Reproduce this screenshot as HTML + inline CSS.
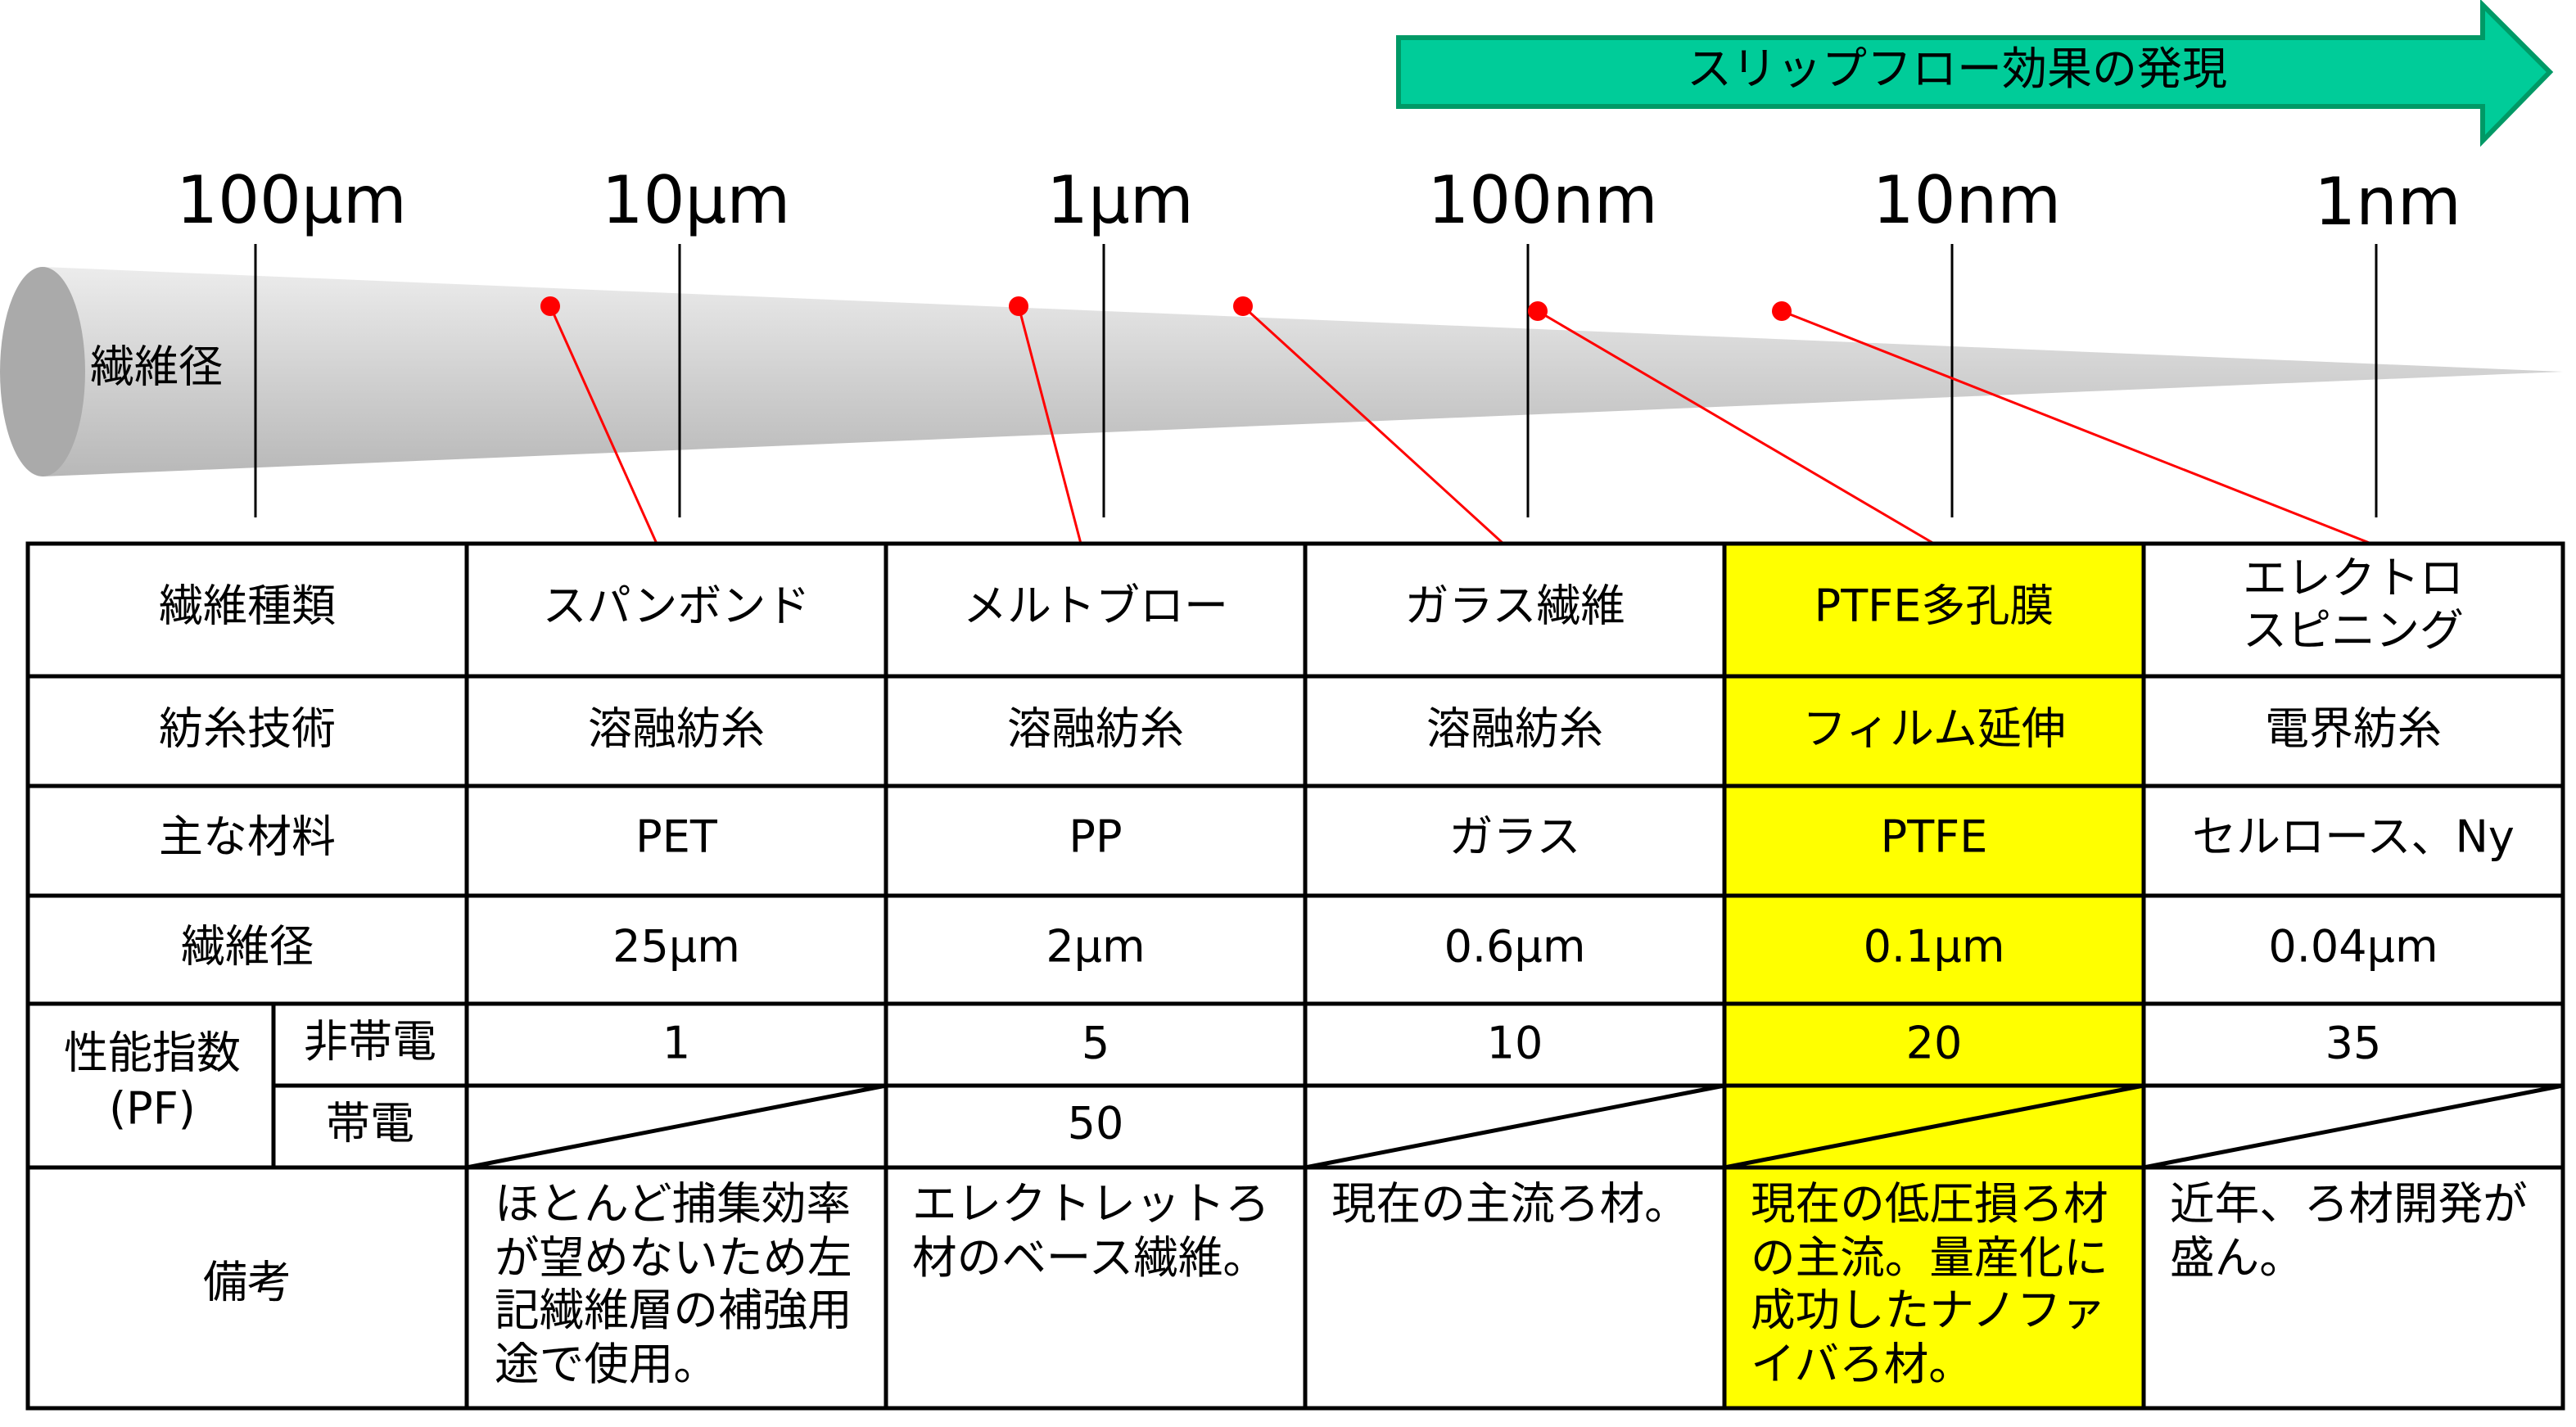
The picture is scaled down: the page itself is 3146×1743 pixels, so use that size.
<!DOCTYPE html>
<html><head><meta charset="utf-8"><style>
html,body{margin:0;padding:0;background:#fff;}
svg{display:block;}
text{font-family:"DejaVu Sans","Noto Sans CJK JP",sans-serif;fill:#000;}
</style></head><body>
<svg width="3146" height="1743" viewBox="0 0 1573 871.5" xmlns="http://www.w3.org/2000/svg">
<defs>
<linearGradient id="g" x1="0" y1="0" x2="0" y2="1">
<stop offset="0" stop-color="#ececec"/><stop offset="1" stop-color="#b8b8b8"/>
</linearGradient>
</defs>
<polygon points="854,23 1516,23 1516,3 1557,44 1516,86 1516,65 854,65" fill="#00cc99" stroke="#009966" stroke-width="3"/>
<text x="1195" y="42" font-size="27.5" text-anchor="middle" dominant-baseline="central">スリップフロー効果の発現</text>
<g font-size="40" text-anchor="middle">
<text x="178" y="136">100μm</text>
<text x="425" y="136">10μm</text>
<text x="684" y="136">1μm</text>
<text x="942" y="136">100nm</text>
<text x="1201" y="136">10nm</text>
<text x="1458" y="137">1nm</text>
</g>
<polygon points="26,163 1565,227 26,291" fill="url(#g)"/>
<ellipse cx="26" cy="227" rx="26" ry="64" fill="#aaaaaa"/>
<text x="55" y="224" font-size="27" dominant-baseline="central">繊維径</text>
<g stroke="#000" stroke-width="1.5">
<line x1="156" y1="149" x2="156" y2="316"/><line x1="415" y1="149" x2="415" y2="316"/>
<line x1="674" y1="149" x2="674" y2="316"/><line x1="933" y1="149" x2="933" y2="316"/>
<line x1="1192" y1="149" x2="1192" y2="316"/><line x1="1451" y1="149" x2="1451" y2="316"/>
</g>
<rect x="1053" y="332" width="256" height="528" fill="#ffff00"/>
<g stroke="#ff0000" stroke-width="1.5">
<line x1="336" y1="187" x2="401" y2="332"/><line x1="622" y1="187" x2="660" y2="332"/>
<line x1="759" y1="187" x2="918" y2="332"/><line x1="939" y1="190" x2="1181" y2="332"/>
<line x1="1088" y1="190" x2="1448" y2="332"/>
</g>
<g fill="#ff0000">
<circle cx="336" cy="187" r="6"/><circle cx="622" cy="187" r="6"/><circle cx="759" cy="187" r="6"/>
<circle cx="939" cy="190" r="6"/><circle cx="1088" cy="190" r="6"/>
</g>
<g stroke="#000" stroke-width="2.5" fill="none">
<rect x="17" y="332" width="1548" height="528"/>
<line x1="17" y1="413" x2="1565" y2="413"/><line x1="17" y1="480" x2="1565" y2="480"/>
<line x1="17" y1="547" x2="1565" y2="547"/><line x1="17" y1="613" x2="1565" y2="613"/>
<line x1="167" y1="663" x2="1565" y2="663"/><line x1="17" y1="713" x2="1565" y2="713"/>
<line x1="285" y1="332" x2="285" y2="860"/><line x1="541" y1="332" x2="541" y2="860"/>
<line x1="797" y1="332" x2="797" y2="860"/><line x1="1053" y1="332" x2="1053" y2="860"/>
<line x1="1309" y1="332" x2="1309" y2="860"/><line x1="167" y1="613" x2="167" y2="713"/>
<line x1="285" y1="713" x2="541" y2="663"/><line x1="797" y1="713" x2="1053" y2="663"/>
<line x1="1053" y1="713" x2="1309" y2="663"/><line x1="1309" y1="713" x2="1565" y2="663"/>
</g>
<g font-size="27" text-anchor="middle" dominant-baseline="central">
<text x="151" y="370">繊維種類</text><text x="413" y="370">スパンボンド</text><text x="669" y="370">メルトブロー</text>
<text x="925" y="370">ガラス繊維</text><text x="1181" y="370">PTFE多孔膜</text>
<text x="1437" y="353">エレクトロ</text><text x="1437" y="385">スピニング</text>
<text x="151" y="445">紡糸技術</text><text x="413" y="445">溶融紡糸</text><text x="669" y="445">溶融紡糸</text>
<text x="925" y="445">溶融紡糸</text><text x="1181" y="445">フィルム延伸</text><text x="1437" y="445">電界紡糸</text>
<text x="151" y="511">主な材料</text><text x="413" y="511">PET</text><text x="669" y="511">PP</text>
<text x="925" y="511">ガラス</text><text x="1181" y="511">PTFE</text><text x="1437" y="511">セルロース、Ny</text>
<text x="151" y="578">繊維径</text><text x="413" y="578">25μm</text><text x="669" y="578">2μm</text>
<text x="925" y="578">0.6μm</text><text x="1181" y="578">0.1μm</text><text x="1437" y="578">0.04μm</text>
<text x="93" y="643">性能指数</text><text x="93" y="677">(PF)</text>
<text x="226" y="636">非帯電</text><text x="226" y="686">帯電</text>
<text x="413" y="637">1</text><text x="669" y="637">5</text><text x="925" y="637">10</text>
<text x="1181" y="637">20</text><text x="1437" y="637">35</text><text x="669" y="686">50</text>
<text x="151" y="783">備考</text>
</g>
<g font-size="27.3" dominant-baseline="central">
<text x="302" y="735">ほとんど捕集効率</text><text x="302" y="768">が望めないため左</text>
<text x="302" y="800">記繊維層の補強用</text><text x="302" y="833">途で使用。</text>
<text x="557" y="735">エレクトレットろ</text><text x="557" y="768">材のベース繊維。</text>
<text x="813" y="735">現在の主流ろ材。</text>
<text x="1069" y="735">現在の低圧損ろ材</text><text x="1069" y="768">の主流。量産化に</text>
<text x="1069" y="800">成功したナノファ</text><text x="1069" y="833">イバろ材。</text>
<text x="1325" y="735">近年、ろ材開発が</text><text x="1325" y="768">盛ん。</text>
</g>
</svg>
</body></html>
